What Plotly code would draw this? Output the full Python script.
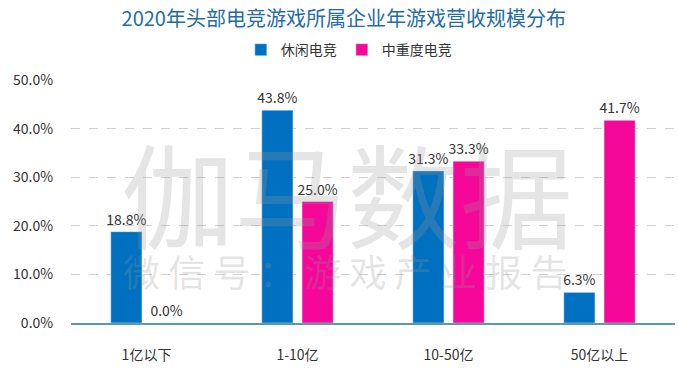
import plotly.graph_objects as go

categories = ["1亿以下", "1-10亿", "10-50亿", "50亿以上"]
casual = [0.188, 0.438, 0.313, 0.063]
midcore = [0.0, 0.25, 0.333, 0.417]
series_names = ["休闲电竞", "中重度电竞"]
ytick_vals = [0, 0.1, 0.2, 0.3, 0.4, 0.5]
ytick_text = ["0.0%", "10.0%", "20.0%", "30.0%", "40.0%", "50.0%"]

FONT = "Noto Sans CJK SC, Microsoft YaHei, sans-serif"

fig = go.Figure()
fig.add_trace(go.Bar(
    x=categories, y=casual, name=series_names[0],
    marker_color="#0070C0",
    text=[f"{v*100:.1f}%" for v in casual], textposition="outside",
    textfont=dict(size=14, color="#333333"), cliponaxis=False, constraintext="none",
))
fig.add_trace(go.Bar(
    x=categories, y=midcore, name=series_names[1],
    marker_color="#F5079A",
    text=[f"{v*100:.1f}%" for v in midcore], textposition="outside",
    textfont=dict(size=14, color="#333333"), cliponaxis=False, constraintext="none",
))

# watermark
fig.add_annotation(text="伽马数据", x=0.457, y=0.545, xref="paper", yref="paper",
                   xanchor="center", yanchor="middle",
                   showarrow=False, font=dict(size=113, color="rgba(150,150,150,0.25)", family=FONT))
fig.add_annotation(text="微 信 号 ： 游 戏 产 业 报 告", x=0.455, y=0.214, xref="paper", yref="paper",
                   xanchor="center", yanchor="middle",
                   showarrow=False, font=dict(size=37, color="rgba(150,150,150,0.25)", family=FONT))

fig.update_layout(
    width=678, height=385,
    margin=dict(l=71, r=3, t=80, b=62),
    paper_bgcolor="white", plot_bgcolor="white",
    font=dict(family=FONT, color="#333333", size=14),
    title=dict(text="2020年头部电竞游戏所属企业年游戏营收规模分布", x=0.507, xanchor="center",
               y=0.951, yanchor="middle", font=dict(size=20, color="#1F6CA6", family=FONT)),
    legend=dict(orientation="h", x=0.46, xanchor="center", y=1.123, yanchor="middle",
                font=dict(size=14, color="#333333"), itemwidth=30, traceorder="normal",
                tracegroupgap=0),
    bargap=0.467, bargroupgap=0.225,
    showlegend=True,
)
fig.update_xaxes(showgrid=False, showline=True, linecolor="#5A9AB0", linewidth=1.5,
                 ticks="outside", ticklen=18, tickcolor="rgba(0,0,0,0)",
                 tickfont=dict(size=14, color="#333333"), automargin=False)
fig.update_yaxes(range=[0, 0.5], tickvals=ytick_vals, ticktext=ytick_text,
                 showgrid=True, gridcolor="#D0D0D0", griddash="dash", gridwidth=1,
                 zeroline=False, showline=False,
                 ticks="outside", ticklen=14, tickcolor="rgba(0,0,0,0)",
                 tickfont=dict(size=14, color="#333333"), automargin=False)

fig.write_html("out.html", config={"displayModeBar": False},
               post_script="document.body.style.margin='0px';")
